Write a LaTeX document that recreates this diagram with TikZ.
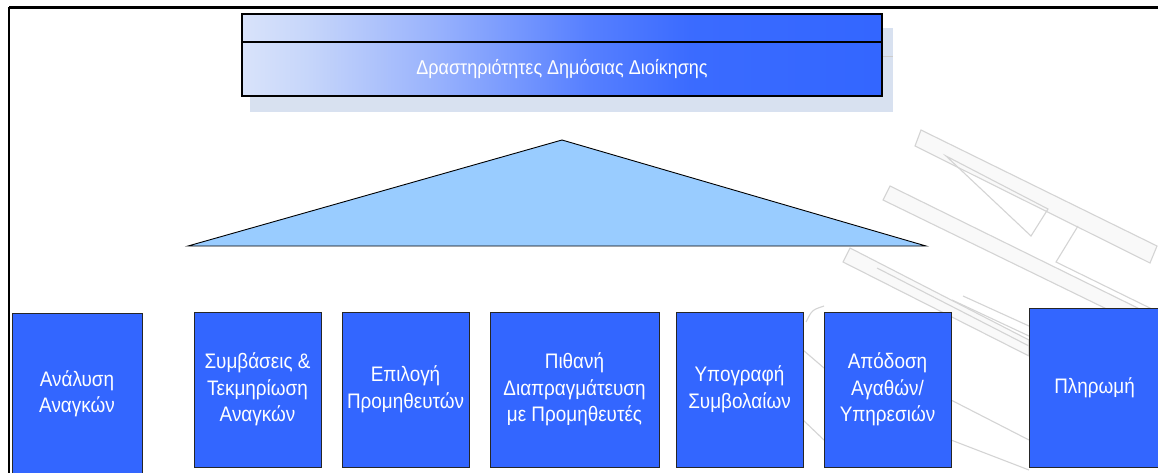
\documentclass[tikz,border=0pt]{standalone}
\usepackage{fontspec}
\setmainfont{Liberation Sans}
\newfontfamily\narrowsans[FakeStretch=0.9]{Liberation Sans}
\definecolor{boxblue}{RGB}{51,102,255}
\definecolor{paleblue}{RGB}{153,204,255}
\definecolor{shadowgrey}{RGB}{216,225,240}
\definecolor{wmgrey}{RGB}{212,212,212}
\definecolor{wmfill}{RGB}{249,249,249}
% header fill: pale at the left edge, full blue from about two thirds across
% (TikZ fits the path onto the 25bp..75bp part of the shading)
\pgfdeclarehorizontalshading{headshade}{100bp}{%
  rgb(0bp)=(0.85,0.89,0.98); rgb(25bp)=(0.85,0.89,0.98); rgb(30bp)=(0.78,0.84,0.98);
  rgb(40bp)=(0.60,0.70,0.99); rgb(52bp)=(0.34,0.50,1.0); rgb(60bp)=(0.23,0.42,1.0);
  rgb(75bp)=(0.20,0.40,1.0); rgb(100bp)=(0.20,0.40,1.0)}

\begin{document}
\begin{tikzpicture}[x=1pt,y=-1pt,
  stepbox/.style={draw=black!85, line width=0.8pt, fill=boxblue, text=white,
    align=center, inner sep=0pt, font=\narrowsans\fontsize{21}{26.5}\selectfont},
  headbar/.style={draw=black, line width=2.4pt, shading=headshade, inner sep=0pt,
    minimum width=640, text=white, font=\narrowsans\fontsize{20}{22}\selectfont},
  wmline/.style={draw=wmgrey, line width=1.1pt, fill=wmfill},
  wmstroke/.style={draw=wmgrey, line width=1.1pt},
  framestroke/.style={draw=black, line width=2.6pt}
]
\useasboundingbox (0,0) rectangle (1158,473);
\fill[white] (0,0) rectangle (1158,473);

% faint background logo
\path[wmline] (921,130) -- (1157,246) -- (1150,263) -- (915,146) -- cycle;
\path[wmstroke] (946,156) -- (1048,209) -- (1031,236) -- cycle;
\path[wmstroke] (1078,226) -- (1056,262) -- (1158,312);
\path[wmline] (890,186) -- (1158,318) -- (1158,334) -- (883,200) -- cycle;
\path[wmline] (850,248) -- (1029,340) -- (1029,356) -- (843,262) -- cycle;
\path[wmstroke] (877,268) -- (1029,346);
\path[wmstroke] (952,300) -- (1029,336);
\path[wmstroke] (963,296) -- (1029,326);
\path[wmstroke] (806,322) .. controls (812,310) .. (824,306);
\path[wmstroke] (803,350) -- (824,368);
\path[wmstroke] (803,420) -- (824,440);
\path[wmstroke] (951,440) -- (1029,470);
\path[wmstroke] (951,400) -- (1029,440);

% frame edges
\draw[framestroke] (9,7.5) -- (1158,7.5);
\draw[framestroke] (9,7.5) -- (9,473);

% header with its shadow
\fill[shadowgrey] (250,28) rectangle (893,112);
\draw[line width=1pt, black!20] (882,57) -- (893,57);
\node[headbar, minimum height=28] (hbar) at (562,28) {};
\node[headbar, minimum height=54] (head) at (562,69) {Δραστηριότητες Δημόσιας Διοίκησης};

% pyramid
\draw[fill=paleblue, draw=black, line width=0.9pt] (562,140) -- (926,246) -- (188,246) -- cycle;

% process steps
\node[stepbox, minimum width=130, minimum height=162] (s1) at (77,394) {Ανάλυση\\Αναγκών};
\node[stepbox, minimum width=127, minimum height=155] (s2) at (257.5,389.5) {Συμβάσεις \&\\Τεκμηρίωση\\Αναγκών};
\node[stepbox, minimum width=127, minimum height=155] (s3) at (405.5,389.5) {Επιλογή\\Προμηθευτών};
\node[stepbox, minimum width=169, minimum height=155] (s4) at (574.5,389.5) {Πιθανή\\Διαπραγμάτευση\\με Προμηθευτές};
\node[stepbox, minimum width=127, minimum height=155] (s5) at (739.5,389.5) {Υπογραφή\\Συμβολαίων};
\node[stepbox, minimum width=127, minimum height=155] (s6) at (887.5,389.5) {Απόδοση\\Αγαθών/\\Υπηρεσιών};
\node[stepbox, minimum width=131, minimum height=159] (s7) at (1094.5,387.5) {Πληρωμή};
\end{tikzpicture}
\end{document}
